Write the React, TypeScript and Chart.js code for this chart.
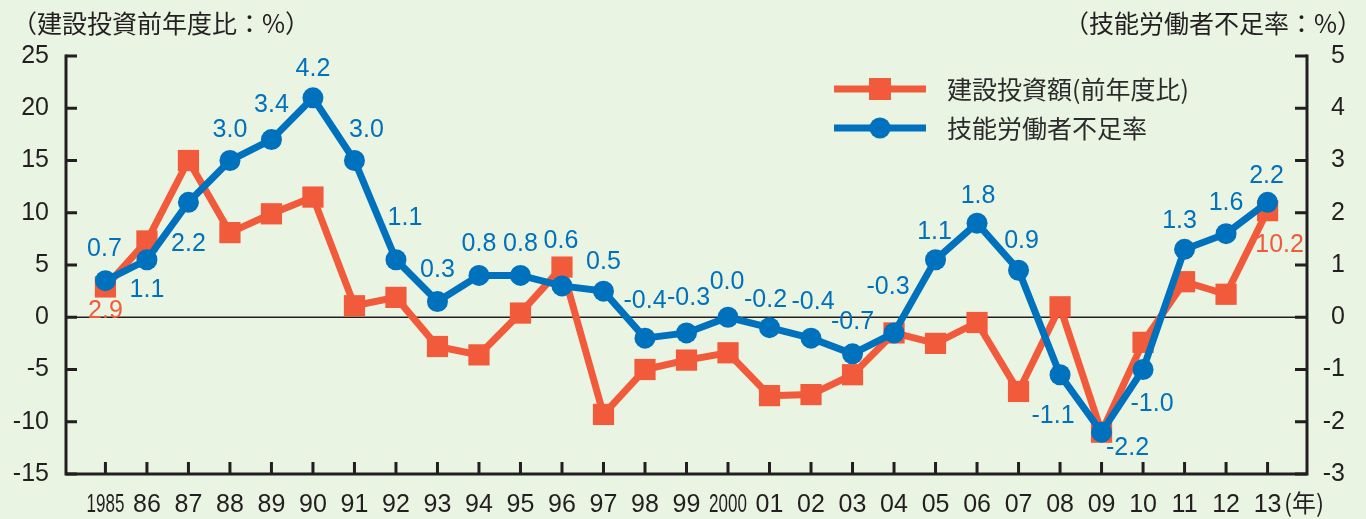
import { useEffect, useRef } from 'react';
import { Chart, registerables } from 'chart.js';

Chart.register(...registerables);

const years = [1985, 1986, 1987, 1988, 1989, 1990, 1991, 1992, 1993, 1994, 1995, 1996, 1997, 1998, 1999, 2000, 2001, 2002, 2003, 2004, 2005, 2006, 2007, 2008, 2009, 2010, 2011, 2012, 2013];
const xTickLabels = ['1985', '86', '87', '88', '89', '90', '91', '92', '93', '94', '95', '96', '97', '98', '99', '2000', '01', '02', '03', '04', '05', '06', '07', '08', '09', '10', '11', '12', '13'];
const condensedTickLabels = ['1985', '2000'];

// 建設投資額(前年度比) %
const constructionInvestment = [2.9, 7.3, 15.0, 8.1, 9.9, 11.5, 1.1, 1.9, -2.8, -3.6, 0.4, 4.8, -9.3, -5.0, -4.1, -3.4, -7.5, -7.4, -5.5, -1.5, -2.5, -0.5, -7.1, 1.0, -11.0, -2.4, 3.4, 2.2, 10.2];
// 技能労働者不足率 %
const laborShortage = [0.7, 1.1, 2.2, 3.0, 3.4, 4.2, 3.0, 1.1, 0.3, 0.8, 0.8, 0.6, 0.5, -0.4, -0.3, 0.0, -0.2, -0.4, -0.7, -0.3, 1.1, 1.8, 0.9, -1.1, -2.2, -1.0, 1.3, 1.6, 2.2];

// label offsets (dx, dy) relative to each blue point
const laborLabelOffsets: [number, number][] = [
  [-1, -32], [0, 30], [0, 42], [0, -30], [0, -34], [0, -29], [12, -30], [9, -42], [0, -31], [0, -31],
  [0, -31], [-1, -45], [0, -29], [0, -37], [2, -35], [-1, -35], [-4, -28], [2, -36], [0, -32], [-6, -46],
  [-1, -28], [1, -27], [3, -29], [-7, 41], [26, 16], [9, 35], [-5, -28], [0, -31], [-1, -26],
];
// red labels shown only for first and last years
const investmentLabelIndex = [0, 28];
const investmentLabelOffsets: [number, number][] = [[0, 24], [12, 34]];

const leftTicks = [-15, -10, -5, 0, 5, 10, 15, 20, 25];
const rightTicks = [-3, -2, -1, 0, 1, 2, 3, 4, 5];

const leftTitle = '（建設投資前年度比：%）';
const rightTitle = '（技能労働者不足率：%）';
const xUnit = '(年)';
const seriesNames = ['建設投資額(前年度比)', '技能労働者不足率'];

const BG = '#E9F4E2';
const RED = '#F15A3B';
const BLUE = '#0071BC';
const INK = '#231F20';
const NUM_FONT = '"Liberation Sans", Arial, sans-serif';
const JP_FONT = '"Noto Sans CJK JP", sans-serif';

const decorPlugin = {
  id: 'decor',
  beforeDraw(chart: any) {
    const { ctx, width, height } = chart;
    ctx.save();
    ctx.fillStyle = BG;
    ctx.fillRect(0, 0, width, height);
    ctx.restore();
  },
  beforeDatasetsDraw(chart: any) {
    const { ctx, chartArea } = chart;
    const y = chart.scales.y;
    ctx.save();
    ctx.strokeStyle = INK;
    ctx.lineWidth = 1.5;
    ctx.beginPath();
    const y0 = y.getPixelForValue(0);
    ctx.moveTo(chartArea.left, y0);
    ctx.lineTo(chartArea.right, y0);
    ctx.stroke();
    ctx.restore();
  },
  afterDatasetsDraw(chart: any) {
    const { ctx, chartArea } = chart;
    const { left, right, top, bottom } = chartArea;
    const xs = chart.scales.x;
    const ys = chart.scales.y;
    const ys2 = chart.scales.y2;
    ctx.save();
    // axes
    ctx.strokeStyle = INK;
    ctx.lineWidth = 3;
    ctx.lineCap = 'butt';
    ctx.beginPath();
    ctx.moveTo(left, top - 1.5);
    ctx.lineTo(left, bottom);
    ctx.lineTo(right, bottom);
    ctx.lineTo(right, top - 1.5);
    ctx.stroke();
    ctx.beginPath();
    leftTicks.forEach((v) => {
      const py = ys.getPixelForValue(v);
      ctx.moveTo(left, py);
      ctx.lineTo(left + 11, py);
    });
    rightTicks.forEach((v) => {
      const py = ys2.getPixelForValue(v);
      ctx.moveTo(right, py);
      ctx.lineTo(right - 12, py);
    });
    years.forEach((yr) => {
      const px = xs.getPixelForValue(yr);
      ctx.moveTo(px, bottom);
      ctx.lineTo(px, bottom - 12);
    });
    ctx.stroke();

    // x tick labels
    ctx.fillStyle = INK;
    ctx.textBaseline = 'middle';
    ctx.textAlign = 'center';
    ctx.font = `25px ${NUM_FONT}`;
    years.forEach((yr, i) => {
      const px = xs.getPixelForValue(yr);
      const label = xTickLabels[i];
      if (condensedTickLabels.includes(label)) {
        ctx.save();
        ctx.translate(px, 505);
        ctx.scale(0.68, 1);
        ctx.fillText(label, 0, 0);
        ctx.restore();
      } else {
        ctx.fillText(label, px, 505);
      }
    });
    ctx.font = `24px ${JP_FONT}`;
    ctx.textAlign = 'left';
    ctx.fillText(xUnit, 1284, 503);

    // axis titles
    ctx.font = `25px ${JP_FONT}`;
    ctx.textAlign = 'left';
    ctx.fillText(leftTitle, 12, 23);
    ctx.textAlign = 'right';
    ctx.fillText(rightTitle, 1362, 23);

    // data labels
    ctx.font = `25px ${NUM_FONT}`;
    ctx.textAlign = 'center';
    const blueMeta = chart.getDatasetMeta(0);
    ctx.fillStyle = BLUE;
    blueMeta.data.forEach((pt: any, i: number) => {
      const [dx, dy] = laborLabelOffsets[i];
      ctx.fillText(laborShortage[i].toFixed(1), pt.x + dx, pt.y + dy);
    });
    const redMeta = chart.getDatasetMeta(1);
    ctx.fillStyle = RED;
    investmentLabelIndex.forEach((idx, k) => {
      const pt = redMeta.data[idx];
      const [dx, dy] = investmentLabelOffsets[k];
      ctx.fillText(constructionInvestment[idx].toFixed(1), pt.x + dx, pt.y + dy);
    });

    // legend
    const lx0 = 834, lx1 = 926, lmx = 880;
    const rows = [
      { y: 89, color: RED, name: seriesNames[0], shape: 'rect' },
      { y: 128, color: BLUE, name: seriesNames[1], shape: 'circle' },
    ];
    rows.forEach((r) => {
      ctx.strokeStyle = r.color;
      ctx.fillStyle = r.color;
      ctx.lineWidth = 7;
      ctx.beginPath();
      ctx.moveTo(lx0, r.y);
      ctx.lineTo(lx1, r.y);
      ctx.stroke();
      ctx.beginPath();
      if (r.shape === 'rect') {
        ctx.rect(lmx - 11, r.y - 11, 22, 22);
      } else {
        ctx.arc(lmx, r.y, 10.5, 0, Math.PI * 2);
      }
      ctx.fill();
      ctx.fillStyle = '#2B2B2B';
      ctx.font = `25px ${JP_FONT}`;
      ctx.textAlign = 'left';
      ctx.textBaseline = 'middle';
      ctx.fillText(r.name, 947, r.y);
    });
    ctx.restore();
  },
};

export default function App() {
  const canvasRef = useRef<HTMLCanvasElement | null>(null);

  useEffect(() => {
    if (!canvasRef.current) return;
    const chart = new Chart(canvasRef.current, {
      type: 'line',
      data: {
        datasets: [
          {
            label: seriesNames[1],
            data: years.map((x, i) => ({ x, y: laborShortage[i] })),
            yAxisID: 'y2',
            borderColor: BLUE,
            backgroundColor: BLUE,
            borderWidth: 7,
            pointStyle: 'circle',
            pointRadius: 10.5,
            pointBorderWidth: 0,
            pointBackgroundColor: BLUE,
            order: 0,
            tension: 0,
            clip: false as any,
          },
          {
            label: seriesNames[0],
            data: years.map((x, i) => ({ x, y: constructionInvestment[i] })),
            yAxisID: 'y',
            borderColor: RED,
            backgroundColor: RED,
            borderWidth: 7,
            pointStyle: 'rect',
            pointRadius: 15,
            pointBorderWidth: 0,
            pointBackgroundColor: RED,
            order: 1,
            tension: 0,
            clip: false as any,
          },
        ],
      },
      options: {
        responsive: false,
        animation: false,
        events: [],
        layout: { padding: { top: 56, right: 21, left: 0, bottom: 0 } },
        plugins: {
          legend: { display: false },
          tooltip: { enabled: false },
          title: { display: false },
        },
        scales: {
          x: {
            type: 'linear',
            min: 1984.05,
            max: 2013.95,
            grid: { display: false, drawTicks: false },
            border: { display: false },
            ticks: { display: false },
            afterFit: (s: any) => { s.height = 45; },
          },
          y: {
            position: 'left',
            min: -15,
            max: 25,
            grid: { display: false, drawTicks: false },
            border: { display: false },
            ticks: { stepSize: 5, padding: 17, color: INK, font: { family: NUM_FONT, size: 25 } },
            afterFit: (s: any) => { s.width = 66; },
          },
          y2: {
            position: 'right',
            min: -3,
            max: 5,
            grid: { display: false, drawTicks: false },
            border: { display: false },
            ticks: { stepSize: 1, padding: 10, crossAlign: 'far', color: INK, font: { family: NUM_FONT, size: 25 } },
            afterFit: (s: any) => { s.width = 38; },
          },
        },
      } as any,
      plugins: [decorPlugin],
    });
    return () => chart.destroy();
  }, []);

  return (
    <div style={{ position: 'fixed', left: 0, top: 0, width: 1366, height: 519, background: BG }}>
      <canvas ref={canvasRef} width={1366} height={519} style={{ display: 'block' }} />
    </div>
  );
}
